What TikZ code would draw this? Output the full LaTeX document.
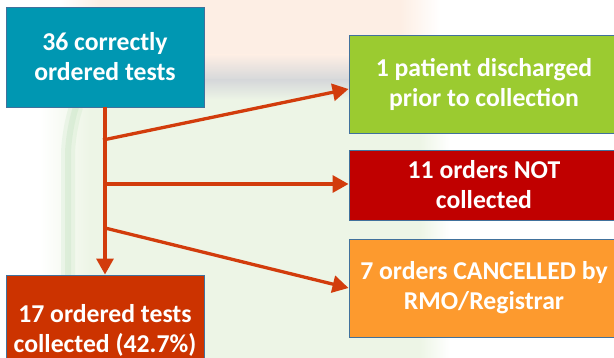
\documentclass[tikz,border=0pt]{standalone}
\usepackage{fontspec}
\setmainfont{Carlito}
\usetikzlibrary{arrows.meta}
\definecolor{teal}{HTML}{0097B2}
\definecolor{lgreen}{HTML}{9BCB30}
\definecolor{dred}{HTML}{C00000}
\definecolor{orng}{HTML}{FD9A2E}
\definecolor{rust}{HTML}{CC3300}
\definecolor{edge}{HTML}{41719C}
\definecolor{conn}{HTML}{D23C0C}
\definecolor{peach}{HTML}{FDEEE4}
\definecolor{pgreen}{HTML}{EDF5E6}
\definecolor{greyband}{HTML}{D6D8DA}
\tikzset{
  box/.style={draw=edge, line width=0.9pt, text=white, align=center,
    inner sep=0pt, font=\bfseries\fontsize{25.7}{30}\selectfont},
  arr/.style={draw=conn, line width=3.3pt, -{Triangle[length=16pt,width=17pt]}},
  bgsoft/.style={line width=#1, opacity=0.18, rounded corners=25pt}
}
\begin{document}
\begin{tikzpicture}[x=1pt,y=-1pt]
\useasboundingbox (0,0) rectangle (614,358);
\clip (0,0) rectangle (614,358);
% background (blurred photo)
\fill[white] (0,0) rectangle (614,358);
\shade[left color=white, right color=peach] (60,0) rectangle (100,70);
\fill[peach] (100,0) rectangle (400,70);
\shade[left color=peach, right color=white] (400,0) rectangle (440,70);
\shade[top color=peach, bottom color=greyband] (70,55) rectangle (430,80);
\shade[top color=greyband, bottom color=pgreen] (70,80) rectangle (430,100);
\shade[left color=white, right color=pgreen] (40,100) rectangle (90,358);
\fill[pgreen] (90,100) rectangle (420,358);
\shade[left color=pgreen, right color=white] (420,100) rectangle (450,358);
\draw[gray!60!green, bgsoft=14pt, opacity=0.07] (68,358) -- (68,130) -- (75,110);
\draw[gray!60!green, bgsoft=6pt, opacity=0.08] (68,358) -- (68,130) -- (75,110);
% nodes
\node[box, fill=teal, minimum width=198pt, minimum height=100pt] (top) at (105,57) {36 correctly\\ordered tests};
\node[box, fill=rust, minimum width=198pt, minimum height=110pt] (bot) at (105,330) {17 ordered tests\\collected (42.7\%)};
\node[box, fill=lgreen, minimum width=270pt, minimum height=98pt] (dis) at (484,84) {1 patient discharged\\prior to collection};
\node[box, fill=dred, minimum width=270pt, minimum height=70pt] (nc) at (484,185) {11 orders NOT\\collected};
\node[box, fill=orng, minimum width=270pt, minimum height=98pt] (can) at (484,288) {7 orders CANCELLED by\\RMO/Registrar};
% connectors
\coordinate (b1) at (103,140);
\coordinate (b2) at (105,184);
\coordinate (b3) at (105,228);
\draw[arr] (top.south) -- (bot.north);
\draw[arr] (b1) -- ([yshift=-5pt]dis.west);
\draw[arr] (b2) -- (nc.west |- b2);
\draw[arr] (b3) -- (can.west);
\end{tikzpicture}
\end{document}
